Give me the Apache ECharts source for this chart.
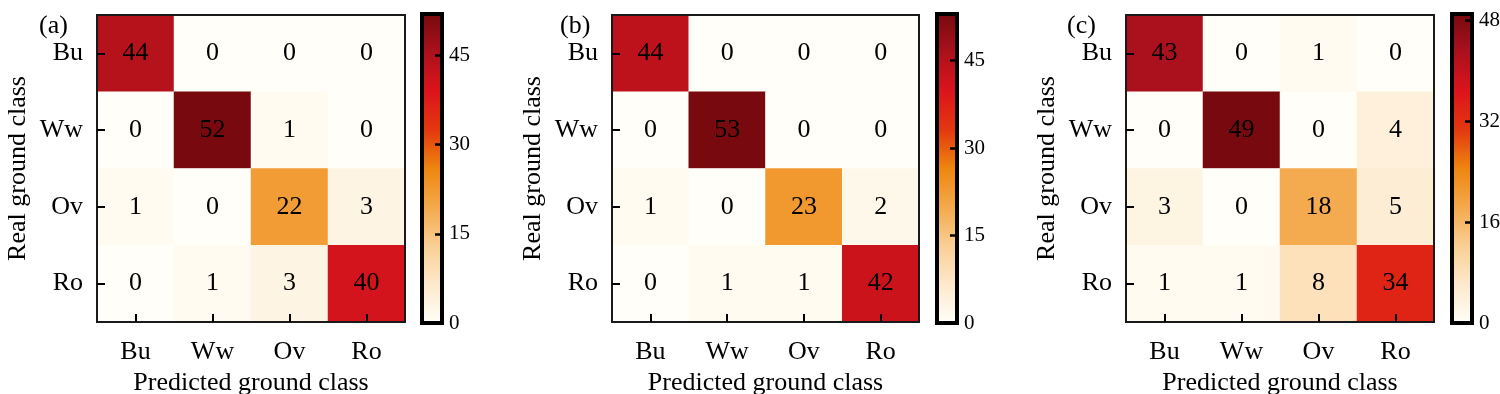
<!DOCTYPE html>
<html>
<head>
<meta charset="utf-8">
<script src="https://cdn.jsdelivr.net/npm/echarts@6/dist/echarts.min.js"></script>
<style>
html,body{margin:0;padding:0;background:#fff;}
#chart{width:1500px;height:394px;}
</style>
</head>
<body>
<div id="chart"></div>
<script>
// ---- data ----
const categories = ['Bu', 'Ww', 'Ov', 'Ro'];
const panelLabels = ['(a)', '(b)', '(c)'];
const matrixA = [[44, 0, 0, 0], [0, 52, 1, 0], [1, 0, 22, 3], [0, 1, 3, 40]];
const matrixB = [[44, 0, 0, 0], [0, 53, 0, 0], [1, 0, 23, 2], [0, 1, 1, 42]];
const matrixC = [[43, 0, 1, 0], [0, 49, 0, 4], [3, 0, 18, 5], [1, 1, 8, 34]];
const colorbarMax = [52, 53, 49];
const colorbarTicksA = [0, 15, 30, 45];
const colorbarTicksB = [0, 15, 30, 45];
const colorbarTicksC = [0, 16, 32, 48];
const xAxisName = 'Predicted ground class';
const yAxisName = 'Real ground class';
const colormap = ['#fffef8', '#fde9cc', '#f9cf94', '#f4a94c', '#ee860f', '#e3380f', '#dc141c', '#ab111c', '#780a0f'];

// ---- layout ----
const FONT = '"Liberation Serif", "DejaVu Serif", serif';
const layout = [
  { hm: { left: 97, top: 15, width: 308, height: 307 }, cb: { left: 422, top: 14, width: 20, height: 309 }, label: { left: 34, top: 8 } },
  { hm: { left: 612, top: 15, width: 307, height: 307 }, cb: { left: 937, top: 14, width: 20, height: 309 }, label: { left: 555, top: 8 } },
  { hm: { left: 1126, top: 15, width: 308, height: 307 }, cb: { left: 1452, top: 14, width: 20, height: 309 }, label: { left: 1062, top: 8 } }
];
const matrices = [matrixA, matrixB, matrixC];
const ticks = [colorbarTicksA, colorbarTicksB, colorbarTicksC];

const grids = [], xAxes = [], yAxes = [], series = [], visualMaps = [], titles = [];

const gradientStops = colormap.map((c, i) => ({ offset: i / (colormap.length - 1), color: c }));

matrices.forEach((m, p) => {
  const L = layout[p];
  const hmIdx = grids.length;
  grids.push(Object.assign({ show: true, borderColor: '#1a1a1a', borderWidth: 2, backgroundColor: 'transparent', z: 10, containLabel: false, outerBoundsMode: 'none' }, L.hm));
  const cbIdx = grids.length;
  grids.push(Object.assign({ show: true, borderColor: '#000', borderWidth: 4, backgroundColor: 'transparent', z: 10, containLabel: false, outerBoundsMode: 'none' }, L.cb));

  xAxes.push({
    gridIndex: hmIdx, type: 'category', data: categories, z: 10,
    name: xAxisName, nameLocation: 'middle', nameGap: 45,
    nameTextStyle: { fontFamily: FONT, fontSize: 26, color: '#000' },
    axisLine: { show: false },
    axisTick: { show: true, inside: true, alignWithLabel: true, length: 8, lineStyle: { color: '#000', width: 2 } },
    axisLabel: { fontFamily: FONT, fontSize: 26, color: '#000', margin: 17 },
    splitLine: { show: false }, splitArea: { show: false }
  });
  yAxes.push({
    gridIndex: hmIdx, type: 'category', data: categories, inverse: true, z: 10,
    name: yAxisName, nameLocation: 'middle', nameGap: 66, nameRotate: 90,
    nameTextStyle: { fontFamily: FONT, fontSize: 26, color: '#000' },
    axisLine: { show: false },
    axisTick: { show: true, inside: true, alignWithLabel: true, length: 8, lineStyle: { color: '#000', width: 2 } },
    axisLabel: { fontFamily: FONT, fontSize: 26, color: '#000', margin: 14 },
    splitLine: { show: false }, splitArea: { show: false }
  });
  xAxes.push({ gridIndex: cbIdx, type: 'category', data: ['cb'], show: false, boundaryGap: true });
  yAxes.push({
    gridIndex: cbIdx, type: 'value', min: 0, max: colorbarMax[p], position: 'right', z: 10,
    axisLine: { show: false },
    axisTick: { show: true, inside: true, length: 7, customValues: ticks[p], lineStyle: { color: '#000', width: 2.5 } },
    axisLabel: { show: true, customValues: ticks[p], fontFamily: FONT, fontSize: 21, color: '#000', margin: 7 },
    splitLine: { show: false }
  });

  const data = [];
  m.forEach((row, r) => row.forEach((v, c) => data.push([c, r, v])));
  const sIdx = series.length;
  series.push({
    type: 'heatmap', xAxisIndex: hmIdx, yAxisIndex: hmIdx, data: data,
    label: { show: true, fontFamily: FONT, fontSize: 26, color: '#000' },
    itemStyle: { borderWidth: 0 },
    emphasis: { disabled: true }
  });
  visualMaps.push({ type: 'continuous', show: false, seriesIndex: sIdx, min: 0, max: colorbarMax[p], inRange: { color: colormap } });
  series.push({
    type: 'bar', xAxisIndex: cbIdx, yAxisIndex: cbIdx, data: [colorbarMax[p]], barWidth: '100%', silent: true,
    itemStyle: { color: new echarts.graphic.LinearGradient(0, 1, 0, 0, gradientStops) }
  });
  titles.push({ text: panelLabels[p], left: L.label.left, top: L.label.top, textStyle: { fontFamily: FONT, fontSize: 26, fontWeight: 'normal', color: '#000' } });
});

const chart = echarts.init(document.getElementById('chart'), null, { renderer: 'canvas' });
chart.setOption({
  backgroundColor: '#fff',
  animation: false,
  title: titles,
  grid: grids,
  xAxis: xAxes,
  yAxis: yAxes,
  visualMap: visualMaps,
  series: series
});
</script>
</body>
</html>
